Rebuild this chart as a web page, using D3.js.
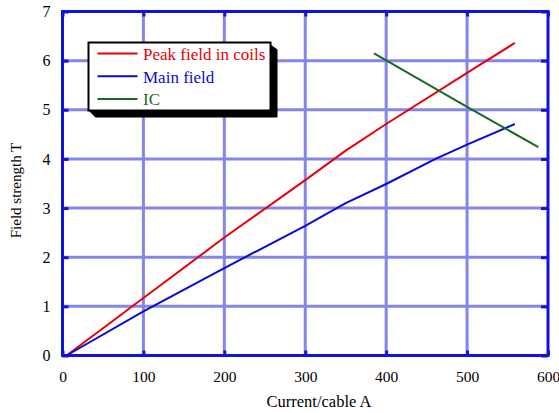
<!DOCTYPE html>
<html>
<head>
<meta charset="utf-8">
<script src="https://cdn.jsdelivr.net/npm/d3@7"></script>
<style>
  html, body { margin: 0; padding: 0; background: #fff; }
  svg { display: block; }
  svg text { font-family: "Liberation Serif", "DejaVu Serif", serif; }
</style>
</head>
<body>
<svg id="chart" width="559" height="413"></svg>
<script>
// ---- data ----
const xTicks = [0, 100, 200, 300, 400, 500, 600];
const yTicks = [0, 1, 2, 3, 4, 5, 6, 7];
const seriesNames = ["Peak field in coils", "Main field", "IC"];
const peakCurrent = [5, 100, 200, 300, 350, 400, 500, 559];
const peakField   = [0, 1.17, 2.4, 3.57, 4.17, 4.71, 5.75, 6.36];
const mainCurrent = [5, 100, 200, 300, 350, 400, 461, 500, 559];
const mainField   = [0, 0.9, 1.78, 2.64, 3.1, 3.49, 4.0, 4.29, 4.71];
const icCurrent   = [385, 500, 588];
const icField     = [6.15, 5.06, 4.24];
const xTitle = "Current/cable A";
const yTitle = "Field strength T";

const colors = ["#e8000b", "#0a0ad8", "#1a6a22"];
const frameColor = "#1212dd";
const gridColor = "#8585ec";
const serif = "'Liberation Serif', 'DejaVu Serif', serif";

const svg = d3.select("#chart");
const x = d3.scaleLinear().domain([0, 600]).range([62.5, 548]);
const y = d3.scaleLinear().domain([0, 7]).range([355.5, 11.5]);

// grid
const g = svg.append("g");
g.selectAll(".vg").data(xTicks.slice(1, -1)).join("line")
  .attr("x1", d => x(d)).attr("x2", d => x(d))
  .attr("y1", y(0)).attr("y2", y(7))
  .attr("stroke", gridColor).attr("stroke-width", 3);
g.selectAll(".hg").data(yTicks.slice(1, -1)).join("line")
  .attr("y1", d => y(d)).attr("y2", d => y(d))
  .attr("x1", x(0)).attr("x2", x(600))
  .attr("stroke", gridColor).attr("stroke-width", 3);

// axes (ticks inward, labels via d3 axis)
const fmt = d3.format("d");
const axB = d3.axisBottom(x).tickValues(xTicks).tickFormat(fmt).tickSizeInner(-5).tickSizeOuter(0).tickPadding(15);
const axL = d3.axisLeft(y).tickValues(yTicks).tickFormat(fmt).tickSizeInner(-6).tickSizeOuter(0).tickPadding(12);
const axT = d3.axisTop(x).tickValues(xTicks).tickSizeInner(-5).tickSizeOuter(0).tickFormat("");
const axR = d3.axisRight(y).tickValues(yTicks).tickSizeInner(-7).tickSizeOuter(0).tickFormat("");

function styleAxis(sel, fs) {
  sel.attr("font-family", serif).attr("font-size", fs);
  sel.select(".domain").remove();
  sel.selectAll(".tick line").attr("stroke", frameColor).attr("stroke-width", 3);
  sel.selectAll(".tick text").attr("fill", "#000");
}
svg.append("g").attr("transform", `translate(0,${y(0)})`).call(axB).call(styleAxis, 15.5);
svg.append("g").attr("transform", `translate(${x(0)},0)`).call(axL).call(styleAxis, 16);
svg.append("g").attr("transform", `translate(0,${y(7)})`).call(axT).call(styleAxis, 16);
svg.append("g").attr("transform", `translate(${x(600)},0)`).call(axR).call(styleAxis, 16);

// frame
svg.append("rect")
  .attr("x", x(0)).attr("y", y(7))
  .attr("width", x(600) - x(0)).attr("height", y(0) - y(7))
  .attr("fill", "none").attr("stroke", frameColor).attr("stroke-width", 3);

// lines
const line = d3.line().x(d => x(d[0])).y(d => y(d[1]));
const series = [
  d3.zip(peakCurrent, peakField),
  d3.zip(mainCurrent, mainField),
  d3.zip(icCurrent, icField)
];
svg.selectAll(".series").data(series).join("path")
  .attr("d", line).attr("fill", "none")
  .attr("stroke", (d, i) => colors[i]).attr("stroke-width", 2);

// legend
const lx = 88.5, ly = 42.5, lw = 182, lh = 68, off = 7;
svg.append("path")
  .attr("d", `M${lx + lw},${ly + 2} L${lx + lw + off},${ly + off} L${lx + lw + off},${ly + lh + off} L${lx + off},${ly + lh + off} L${lx},${ly + lh} Z`)
  .attr("fill", "#000");
svg.append("rect").attr("x", lx).attr("y", ly).attr("width", lw).attr("height", lh)
  .attr("fill", "#fff").attr("stroke", "#000").attr("stroke-width", 2);
const leg = svg.selectAll(".leg").data(seriesNames).join("g")
  .attr("transform", (d, i) => `translate(${lx + 9},${53.5 + i * 22.7})`);
leg.append("line").attr("x1", 0).attr("x2", 40).attr("y1", 0).attr("y2", 0)
  .attr("stroke", (d, i) => colors[i]).attr("stroke-width", 2);
leg.append("text").attr("x", 45.5).attr("y", 6.5).text(d => d)
  .attr("fill", (d, i) => colors[i]).attr("font-family", serif).attr("font-size", 17);

// titles
svg.append("text").attr("x", 319).attr("y", 407)
  .attr("text-anchor", "middle").attr("font-family", serif).attr("font-size", 16.5).text(xTitle);
svg.append("text").attr("transform", `translate(21,${(y(0) + y(7)) / 2 + 7}) rotate(-90)`)
  .attr("text-anchor", "middle").attr("font-family", serif).attr("font-size", 15).text(yTitle);
</script>
</body>
</html>
